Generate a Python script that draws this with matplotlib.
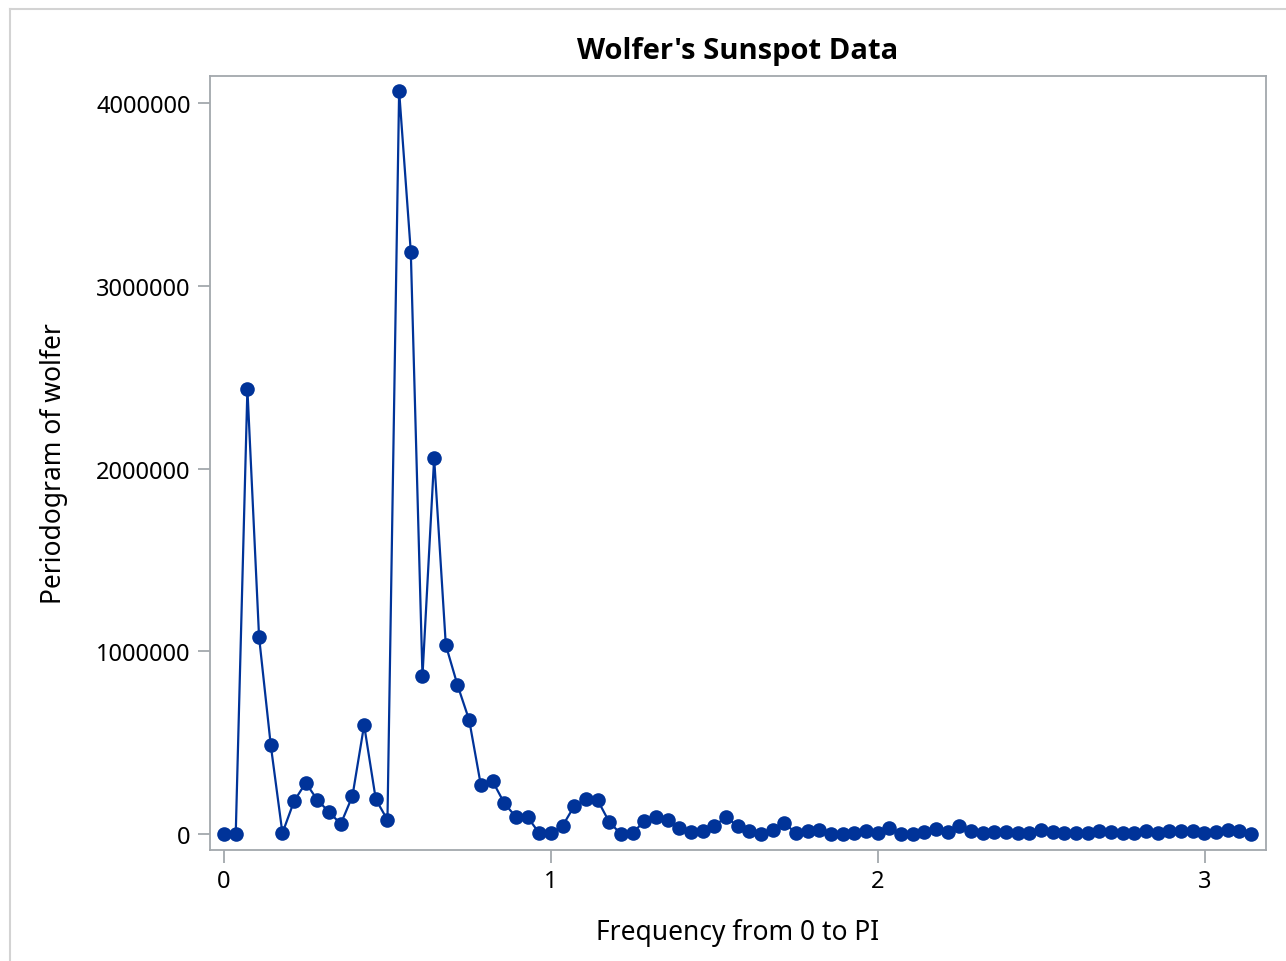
import numpy as np
import matplotlib
matplotlib.use("Agg")
import matplotlib.pyplot as plt
from matplotlib.lines import Line2D

plt.rcParams['font.family'] = ['Noto Sans', 'DejaVu Sans']

# Periodogram of the Wolfer sunspot series, n = 176, frequencies 2*pi*k/176
n_obs = 176
k = np.arange(0, 89)
freq = 2 * np.pi * k / n_obs

# values, in millions
periodogram_m = [
    0.0, 0.0, 2.435, 1.078, 0.487, 0.005, 0.180, 0.280, 0.186, 0.120,
    0.055, 0.208, 0.596, 0.190, 0.077, 4.066, 3.185, 0.865, 2.057, 1.034,
    0.815, 0.624, 0.268, 0.290, 0.170, 0.093, 0.093, 0.005, 0.005, 0.044,
    0.153, 0.190, 0.186, 0.066, 0.000, 0.005, 0.070, 0.093, 0.077, 0.033,
    0.011, 0.016, 0.044, 0.093, 0.044, 0.016, 0.000, 0.022, 0.060, 0.005,
    0.016, 0.022, 0.000, 0.000, 0.005, 0.016, 0.005, 0.033, 0.000, 0.000,
    0.011, 0.027, 0.011, 0.044, 0.016, 0.005, 0.011, 0.011, 0.005, 0.005,
    0.022, 0.011, 0.005, 0.005, 0.005, 0.016, 0.011, 0.005, 0.005, 0.016,
    0.005, 0.016, 0.016, 0.016, 0.005, 0.011, 0.022, 0.016, 0.0,
]
periodogram = np.array(periodogram_m) * 1e6

blue = '#003399'
frame = '#a3a8ad'

fig = plt.figure(figsize=(12.86, 9.62), dpi=100)
ax = fig.add_axes([210 / 1286, 1 - 851 / 962, (1266 - 210) / 1286, (851 - 77) / 962])

ax.plot(freq, periodogram, color=blue, lw=1.6, marker='o', ms=10.5,
        markeredgewidth=0, zorder=3)

ax.set_xlim(-0.043, 3.187)
ax.set_ylim(-87500, 4148000)
ax.set_xticks([0, 1, 2, 3])
ax.set_yticks([0, 1000000, 2000000, 3000000, 4000000])
ax.set_yticklabels(['0', '1000000', '2000000', '3000000', '4000000'])

for s in ax.spines.values():
    s.set_color(frame)
    s.set_linewidth(1.3)
ax.tick_params(colors=frame, length=9, width=1.3, labelcolor='black',
               labelsize=17, pad=5)

ax.set_xlabel('Frequency from 0 to PI', fontsize=19, labelpad=18)
ax.set_ylabel('Periodogram of wolfer', fontsize=19, labelpad=20)
ax.set_title("Wolfer's Sunspot Data", fontsize=21, fontweight='bold', pad=13,
             family=['Open Sans', 'DejaVu Sans'])

# outer border of the graph area
fig.add_artist(Line2D([10 / 1286, 10 / 1286], [0, 1 - 10 / 962],
                      transform=fig.transFigure, color='#d3d3d3', lw=1.5))
fig.add_artist(Line2D([10 / 1286, 1], [1 - 10 / 962, 1 - 10 / 962],
                      transform=fig.transFigure, color='#d3d3d3', lw=1.5))

fig.savefig('out.png', dpi=100)
